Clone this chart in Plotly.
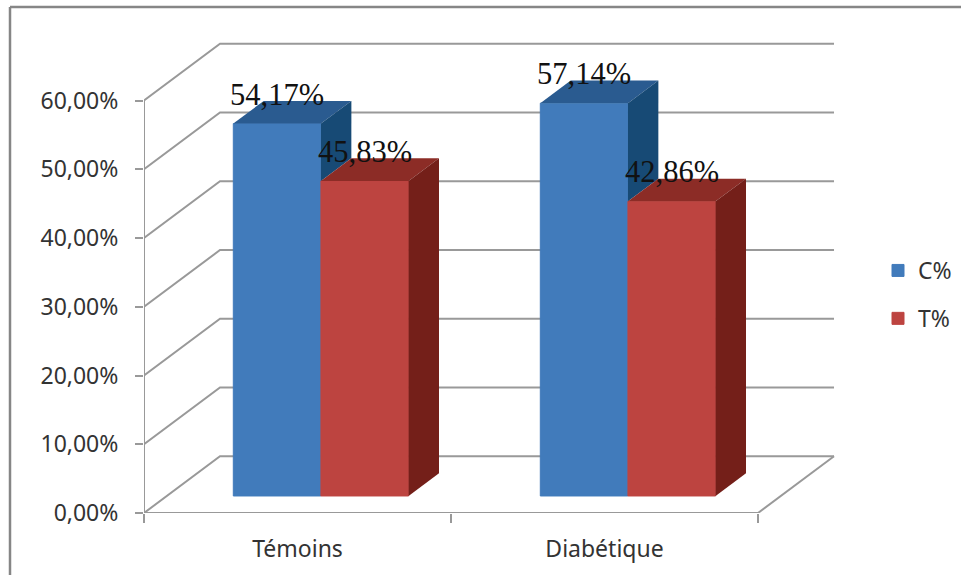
import plotly.graph_objects as go

# Chart data
categories = ["Témoins", "Diabétique"]
series_names = ["C%", "T%"]
c_values = [54.17, 57.14]
t_values = [45.83, 42.86]
y_ticks = [0, 10, 20, 30, 40, 50, 60]
y_tick_labels = ["0,00%", "10,00%", "20,00%", "30,00%", "40,00%", "50,00%", "60,00%"]

# Pseudo-3D projection, in axis units: moving back through the scene shifts
# a point right along x and up along y.
DEPTH_X = 0.2476
DEPTH_Y = 8.25
BAR_WIDTH = 0.2855
GAP_FRONT = 0.3
BAR_DEPTH = 0.4
WALL_END = 2.0 + DEPTH_X

BLUE, BLUE_TOP, BLUE_SIDE = "#417BBB", "#2A5B90", "#174A75"
RED, RED_TOP, RED_SIDE = "#BD4440", "#8C2C26", "#741F19"
GRID = "#999999"
TEXT = "#333333"
SANS = "Noto Sans"

# Plot area placement in pixels
W, H = 961, 575
LEFT, RIGHT, TOP, BOTTOM = 144, 840, 30, 513
X_MAX = (RIGHT - LEFT) / 307.0
Y_MAX = (BOTTOM - TOP) / 6.875


fx, fy = GAP_FRONT * DEPTH_X, GAP_FRONT * DEPTH_Y
bx, by = BAR_DEPTH * DEPTH_X, BAR_DEPTH * DEPTH_Y
group_margin = 0.2166


def bar_left(cat_index, series_index):
    return cat_index + group_margin + series_index * BAR_WIDTH + fx


fig = go.Figure()

# Front faces
for s, (name, values, color) in enumerate(
    [(series_names[0], c_values, BLUE), (series_names[1], t_values, RED)]
):
    fig.add_trace(
        go.Bar(
            name=name,
            x=[bar_left(i, s) + BAR_WIDTH / 2 for i in range(len(categories))],
            y=[v for v in values],
            base=fy,
            width=BAR_WIDTH,
            marker=dict(color=color, line=dict(width=1, color=color)),
            legendgroup=name,
            hoverinfo="skip",
        )
    )


def polygon(xs, ys, color):
    fig.add_trace(
        go.Scatter(
            x=xs + xs[:1],
            y=ys + ys[:1],
            mode="lines",
            fill="toself",
            fillcolor=color,
            line=dict(width=0, color=color),
            showlegend=False,
            hoverinfo="skip",
        )
    )


# Top and side faces, back to front so each red block hides the blue side behind it
for i in range(len(categories)):
    c_top = c_values[i] + fy
    t_top = t_values[i] + fy
    x0 = bar_left(i, 0)
    x1 = x0 + BAR_WIDTH
    x2 = x1 + BAR_WIDTH
    polygon(
        [x0, x0 + bx, x1 + bx, x1],
        [c_top, c_top + by, c_top + by, c_top],
        BLUE_TOP,
    )
    polygon(
        [x1, x1 + bx, x1 + bx, x1],
        [c_top, c_top + by, t_top + by, t_top],
        BLUE_SIDE,
    )
    polygon(
        [x1, x1 + bx, x2 + bx, x2],
        [t_top, t_top + by, t_top + by, t_top],
        RED_TOP,
    )
    polygon(
        [x2, x2 + bx, x2 + bx, x2],
        [t_top, t_top + by, fy + by, fy],
        RED_SIDE,
    )

# Back wall gridlines and left wall diagonals
grid_style = dict(color=GRID, width=2)
shapes = []
for v in y_ticks:
    path = f"M 0 {v} L {DEPTH_X} {v + DEPTH_Y} L {WALL_END} {v + DEPTH_Y}"
    shapes.append(dict(type="path", xref="x", yref="y", path=path, line=grid_style, layer="below"))
# Floor edge on the right, then the two axis lines
shapes.append(dict(type="line", xref="x", yref="y", x0=2, y0=0, x1=WALL_END, y1=DEPTH_Y, line=grid_style, layer="below"))
shapes.append(dict(type="line", xref="x", yref="y", x0=0, y0=0, x1=2, y1=0, line=grid_style, layer="below"))
shapes.append(dict(type="line", xref="x", yref="y", x0=0, y0=0, x1=0, y1=60, line=grid_style, layer="below"))

# Outer frame: only its top and left edges fall inside the page
pw, ph = RIGHT - LEFT, BOTTOM - TOP
frame_style = dict(color="#868686", width=2.5)
shapes.append(
    dict(type="line", xref="paper", yref="paper",
         x0=(10 - LEFT) / pw, x1=(W - LEFT) / pw,
         y0=(BOTTOM - 7) / ph, y1=(BOTTOM - 7) / ph,
         line=frame_style, layer="below")
)
shapes.append(
    dict(type="line", xref="paper", yref="paper",
         x0=(10 - LEFT) / pw, x1=(10 - LEFT) / pw,
         y0=(BOTTOM - H) / ph, y1=(BOTTOM - 7) / ph,
         line=frame_style, layer="below")
)

# Value labels sit above each bar
annotations = []
for values, s in ((c_values, 0), (t_values, 1)):
    for i, v in enumerate(values):
        annotations.append(
            dict(
                x=bar_left(i, s) + BAR_WIDTH / 2,
                y=v + fy,
                xref="x",
                yref="y",
                text=f"{v:.2f}%".replace(".", ","),
                showarrow=False,
                yanchor="middle",
                yshift=29,
                font=dict(family="Liberation Serif", size=30.5, color="#111111"),
            )
        )

fig.update_layout(
    width=W,
    height=H,
    autosize=False,
    paper_bgcolor="white",
    plot_bgcolor="rgba(0,0,0,0)",
    margin=dict(l=LEFT, r=W - RIGHT, t=TOP, b=H - BOTTOM, autoexpand=False),
    barmode="overlay",
    showlegend=True,
    legend=dict(
        x=(878 - LEFT) / pw,
        y=(BOTTOM - 249) / ph,
        xanchor="left",
        yanchor="top",
        font=dict(family=SANS, size=23, color=TEXT),
        tracegroupgap=15,
        bgcolor="rgba(0,0,0,0)",
        itemwidth=30,
    ),
    xaxis=dict(
        range=[0, X_MAX],
        showgrid=False,
        zeroline=False,
        showline=False,
        tickmode="array",
        tickvals=[0.5, 1.5],
        ticktext=categories,
        ticks="outside",
        ticklen=15,
        tickcolor="rgba(0,0,0,0)",
        tickfont=dict(family=SANS, size=23, color=TEXT),
        minor=dict(
            tickmode="array",
            tickvals=[0, 1, 2],
            ticks="outside",
            ticklen=9,
            tickcolor=GRID,
            tickwidth=2,
            showgrid=False,
        ),
    ),
    yaxis=dict(
        range=[0, Y_MAX],
        showgrid=False,
        zeroline=False,
        showline=False,
        tickmode="array",
        tickvals=y_ticks,
        ticktext=y_tick_labels,
        ticks="outside",
        ticklen=8,
        ticklabelstandoff=12,
        tickcolor=GRID,
        tickwidth=2,
        tickfont=dict(family=SANS, size=23, color=TEXT),
    ),
    shapes=shapes,
    annotations=annotations,
)

fig.write_html("out.html")
